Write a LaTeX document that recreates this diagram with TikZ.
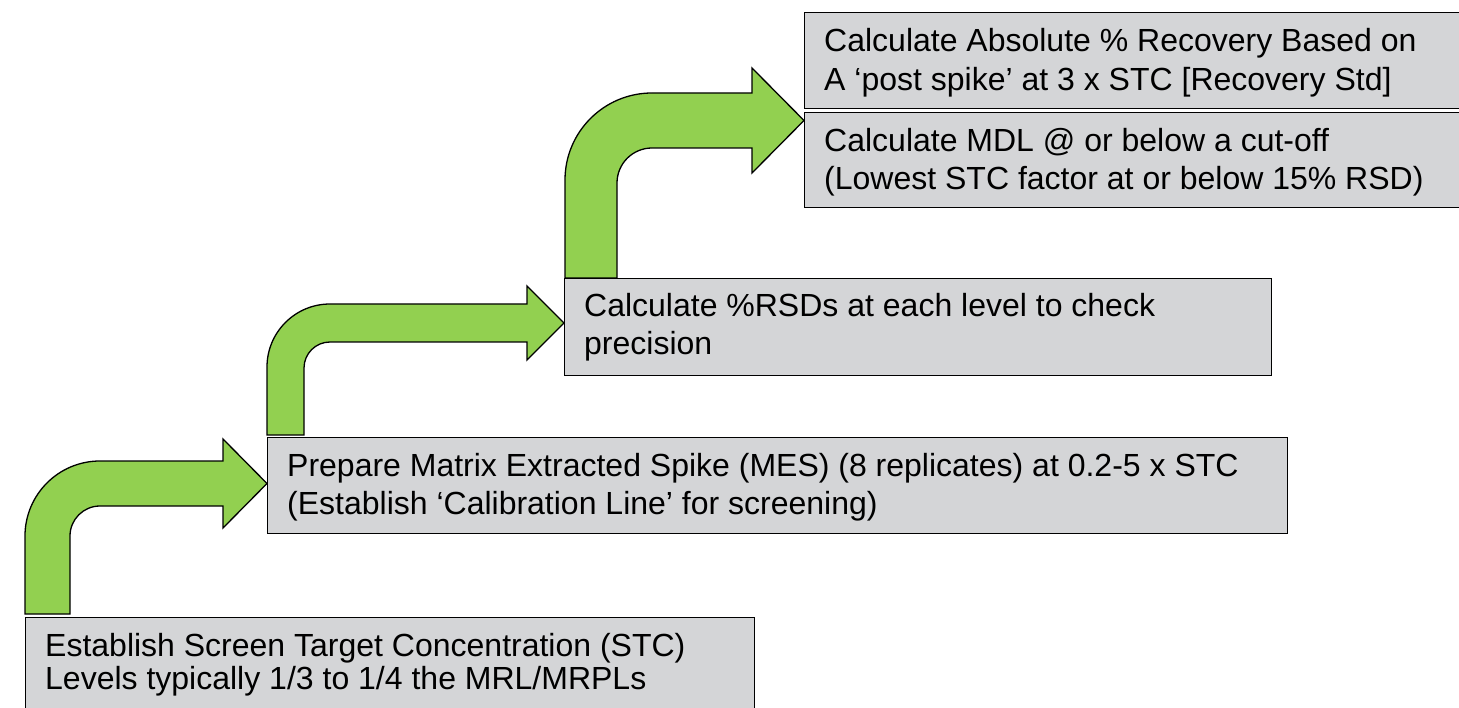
\documentclass[tikz,border=0pt]{standalone}
\usepackage{fontspec}
\setmainfont{Liberation Sans}
\usetikzlibrary{calc}
\definecolor{boxgray}{RGB}{212,213,215}
\definecolor{arrowgreen}{RGB}{146,208,80}
\tikzset{
  stepbox/.style={draw=black, line width=1.3pt, fill=boxgray, rectangle, inner sep=0pt, anchor=north west},
  steptext/.style={anchor=base west, inner sep=0pt, font=\fontsize{32}{38}\selectfont},
  bentarrow/.style={draw=black, line width=1.3pt, fill=arrowgreen, line join=miter}
}
\begin{document}
\begin{tikzpicture}[x=1pt, y=-1pt]
\useasboundingbox (0,0) rectangle (1459,708);
\clip (0,0) rectangle (1459,708);
% bent arrows
\draw[bentarrow] (25,614) -- (25,536) arc[start angle=180, end angle=270, radius=75] -- (223,461) -- (223,439) -- (267,483.5) -- (223,528) -- (223,506) -- (100,506) arc[start angle=270, end angle=180, radius=30] -- (70,614) -- cycle;
\draw[bentarrow] (267,435) -- (267,367) arc[start angle=180, end angle=270, radius=63] -- (527,304) -- (527,286) -- (564,323) -- (527,360) -- (527,342) -- (330,342) arc[start angle=270, end angle=180, radius=26] -- (304,435) -- cycle;
\draw[bentarrow] (565,278) -- (565,180) arc[start angle=180, end angle=270, radius=87] -- (752,93) -- (752,68) -- (804,120.5) -- (752,173) -- (752,148) -- (652,148) arc[start angle=270, end angle=180, radius=35] -- (617,278) -- cycle;
% boxes
\node[stepbox, minimum width=729pt, minimum height=110pt] (b1) at (25,617) {};
\node[stepbox, minimum width=1020pt, minimum height=96pt] (b2) at (267,437) {};
\node[stepbox, minimum width=707pt, minimum height=97pt] (b3) at (564,278) {};
\node[stepbox, minimum width=670pt, minimum height=96pt] (b4) at (804,12) {};
\node[stepbox, minimum width=670pt, minimum height=95pt] (b5) at (804,112) {};
% texts
\node[steptext] (t1a) at ($(b1.north west)+(20,39)$) {Establish Screen Target Concentration (STC)};
\node[steptext] (t1b) at ($(b1.north west)+(20,72)$) {Levels typically 1/3 to 1/4 the MRL/MRPLs};
\node[steptext] (t2a) at ($(b2.north west)+(20,39)$) {Prepare Matrix Extracted Spike (MES) (8 replicates) at 0.2-5 x STC};
\node[steptext] (t2b) at ($(b2.north west)+(20,77)$) {(Establish ‘Calibration Line’ for screening)};
\node[steptext] (t3a) at ($(b3.north west)+(20,39)$) {Calculate \%RSDs at each level to check};
\node[steptext] (t3b) at ($(b3.north west)+(20,77)$) {precision};
\node[steptext] (t4a) at ($(b4.north west)+(20,40)$) {Calculate Absolute \% Recovery Based on};
\node[steptext] (t4b) at ($(b4.north west)+(20,79)$) {A ‘post spike’ at 3 x STC [Recovery Std]};
\node[steptext] (t5a) at ($(b5.north west)+(20,40)$) {Calculate MDL @ or below a cut-off};
\node[steptext] (t5b) at ($(b5.north west)+(20,78)$) {(Lowest STC factor at or below 15\% RSD)};
\end{tikzpicture}
\end{document}
